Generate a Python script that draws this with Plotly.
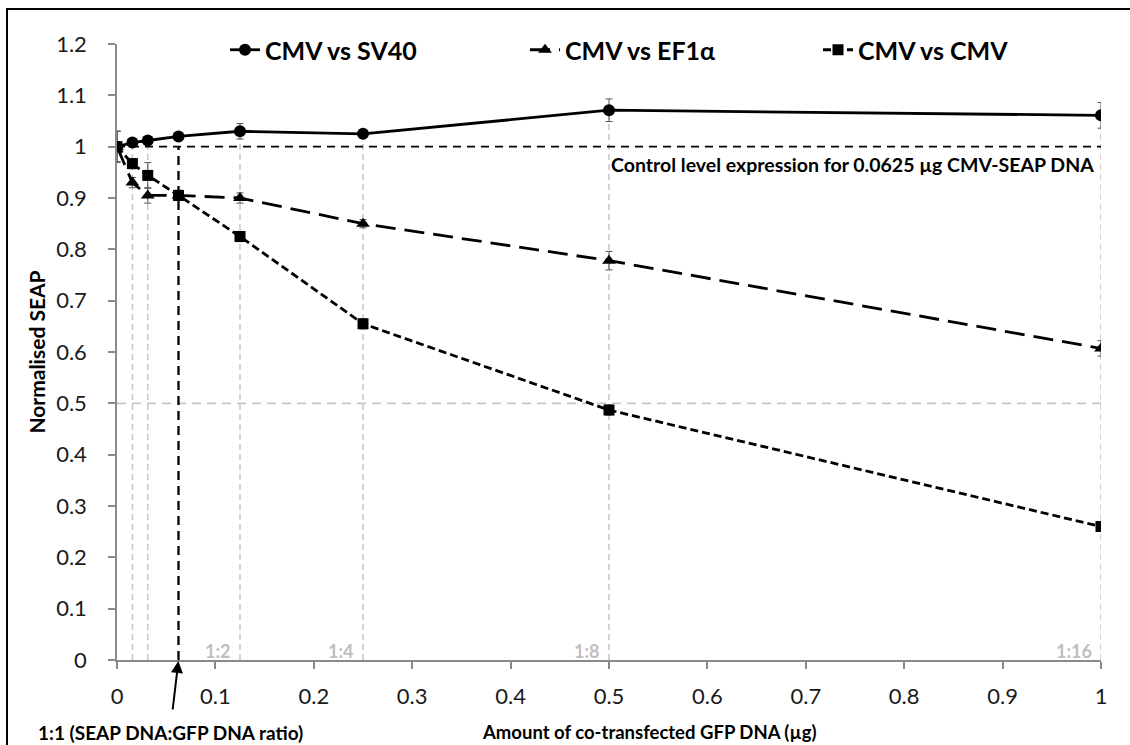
import plotly.graph_objects as go

# ---- data ----
x_amount = [0, 0.015625, 0.03125, 0.0625, 0.125, 0.25, 0.5, 1]
sv40 = [1.0, 1.008, 1.012, 1.02, 1.03, 1.025, 1.071, 1.061]
sv40_err = [0.03, 0.008, 0.006, 0.005, 0.015, 0.006, 0.022, 0.025]
ef1a = [1.0, 0.93, 0.905, 0.905, 0.9, 0.85, 0.778, 0.607]
ef1a_err = [0.03, 0.01, 0.015, 0.01, 0.01, 0.008, 0.018, 0.015]
cmv = [1.0, 0.967, 0.944, 0.905, 0.825, 0.655, 0.487, 0.26]
cmv_err = [0.03, 0.01, 0.025, 0.01, 0.01, 0.01, 0.01, 0.008]
series_names = ["CMV vs SV40", "CMV vs EF1\u03b1", "CMV vs CMV"]
ratio_x = [0.125, 0.25, 0.5, 1]
ratio_labels = ["1:2", "1:4", "1:8", "1:16"]
control_level = 1.0
half_level = 0.5
one_to_one_x = 0.0625
y_ticks = [0, 0.1, 0.2, 0.3, 0.4, 0.5, 0.6, 0.7, 0.8, 0.9, 1, 1.1, 1.2]
x_ticks = [0, 0.1, 0.2, 0.3, 0.4, 0.5, 0.6, 0.7, 0.8, 0.9, 1]

W, H = 1130, 745
L, R, T, B = 117, 29, 44, 85
PW, PH = W - L - R, H - T - B

def px(xp):
    return (xp - L) / PW

def py(yp):
    return (H - B - yp) / PH

FONT = "Lato"
GREY = "#c6c6c6"

fig = go.Figure()

shapes = []
for xv, yv in zip(x_amount, sv40):
    if xv in (0, one_to_one_x):
        continue
    shapes.append(dict(type="line", xref="x", yref="y", x0=xv, x1=xv, y0=0, y1=yv,
                       line=dict(color=GREY, width=1.5, dash="6px,4px"), layer="below"))
shapes.append(dict(type="line", xref="x", yref="y", x0=0, x1=1, y0=half_level, y1=half_level,
                   line=dict(color=GREY, width=1.8, dash="9px,6px"), layer="below"))
shapes.append(dict(type="line", xref="x", yref="y", x0=0, x1=1, y0=control_level, y1=control_level,
                   line=dict(color="black", width=1.8, dash="8px,6px"), layer="below"))
shapes.append(dict(type="line", xref="x", yref="y", x0=one_to_one_x, x1=one_to_one_x, y0=0, y1=control_level,
                   line=dict(color="black", width=2.3, dash="9px,6px"), layer="below"))
shapes.append(dict(type="rect", xref="paper", yref="paper", x0=px(7), x1=px(1140), y0=py(760), y1=py(9),
                   line=dict(color="black", width=2), fillcolor="rgba(0,0,0,0)", layer="below"))

fig.add_trace(go.Scatter(x=x_amount, y=sv40, name=series_names[0], mode="lines+markers",
                         line=dict(color="black", width=2.8),
                         marker=dict(symbol="circle", size=12, color="black"),
                         error_y=dict(type="data", array=sv40_err, color="#555555", thickness=1, width=3.5),
                         legend="legend", showlegend=True))
fig.add_trace(go.Scatter(x=x_amount, y=ef1a, name=series_names[1], mode="lines+markers",
                         line=dict(color="black", width=2.8, dash="20px,9px"),
                         marker=dict(symbol="triangle-up", size=12, color="black"),
                         error_y=dict(type="data", array=ef1a_err, color="#555555", thickness=1, width=3.5),
                         legend="legend2", showlegend=True))
fig.add_trace(go.Scatter(x=x_amount, y=cmv, name=series_names[2], mode="lines+markers",
                         line=dict(color="black", width=2.8, dash="8px,4px"),
                         marker=dict(symbol="square", size=11, color="black"),
                         error_y=dict(type="data", array=cmv_err, color="#555555", thickness=1, width=3.5),
                         legend="legend3", showlegend=True))

annotations = []
for xv, lab in zip(ratio_x, ratio_labels):
    annotations.append(dict(x=xv, y=0.018, xref="x", yref="y", text=lab, showarrow=False,
                            xanchor="right", yanchor="middle", xshift=-7,
                            font=dict(family=FONT, size=18, color="#bfbfbf", weight="bold")))
annotations.append(dict(x=1, y=0.965, xref="x", yref="y",
                        text="Control level expression for 0.0625 \u00b5g CMV-SEAP DNA",
                        showarrow=False, xanchor="right", yanchor="middle", xshift=-5,
                        font=dict(family=FONT, size=19.5, color="black", weight="bold")))
annotations.append(dict(x=one_to_one_x, y=0, xref="x", yref="y", text="", showarrow=True,
                        arrowhead=2, arrowsize=1.2, arrowwidth=2, arrowcolor="black",
                        ax=-6, ay=51, standoff=1))
annotations.append(dict(x=px(36), y=py(732), xref="paper", yref="paper",
                        text="1:1 (SEAP DNA:GFP DNA ratio)", showarrow=False,
                        xanchor="left", yanchor="middle",
                        font=dict(family=FONT, size=19, color="black", weight="bold")))
annotations.append(dict(x=px(649), y=py(732), xref="paper", yref="paper",
                        text="Amount of co-transfected GFP DNA (\u00b5g)", showarrow=False,
                        xanchor="center", yanchor="middle",
                        font=dict(family=FONT, size=18.5, color="black", weight="bold")))

legend_font = dict(family=FONT, size=25, color="black", weight="bold")
def leg(xp):
    return dict(x=px(xp), y=py(50), xanchor="left", yanchor="middle", orientation="h",
                bgcolor="rgba(0,0,0,0)", font=legend_font, itemwidth=30)

fig.update_layout(
    width=W, height=H,
    margin=dict(l=L, r=R, t=T, b=B, pad=0),
    paper_bgcolor="white", plot_bgcolor="white",
    shapes=shapes, annotations=annotations, showlegend=True,
    legend=leg(225), legend2=leg(525), legend3=leg(818),
    font=dict(family=FONT, size=21, color="black"),
    xaxis=dict(range=[0, 1], tickvals=x_ticks, ticktext=[f"{v:g}" for v in x_ticks],
               showgrid=False, zeroline=False, showline=True, linecolor="#8a8a8a", linewidth=1.5,
               ticks="outside", ticklen=7, tickwidth=1.5, tickcolor="#8a8a8a",
               ticklabelstandoff=9,
               tickfont=dict(family=FONT, size=22, color="#1a1a1a")),
    yaxis=dict(range=[0, 1.2], tickvals=y_ticks, ticktext=[f"{v:g}" for v in y_ticks],
               showgrid=False, zeroline=False, showline=True, linecolor="#8a8a8a", linewidth=1.5,
               ticks="outside", ticklen=7, tickwidth=1.5, tickcolor="#8a8a8a",
               ticklabelstandoff=17,
               tickfont=dict(family=FONT, size=22, color="#1a1a1a"),
               title=dict(text="<b>Normalised SEAP</b>", standoff=5,
                          font=dict(family=FONT, size=21, color="black"))),
)

fig.write_html("out.html")
